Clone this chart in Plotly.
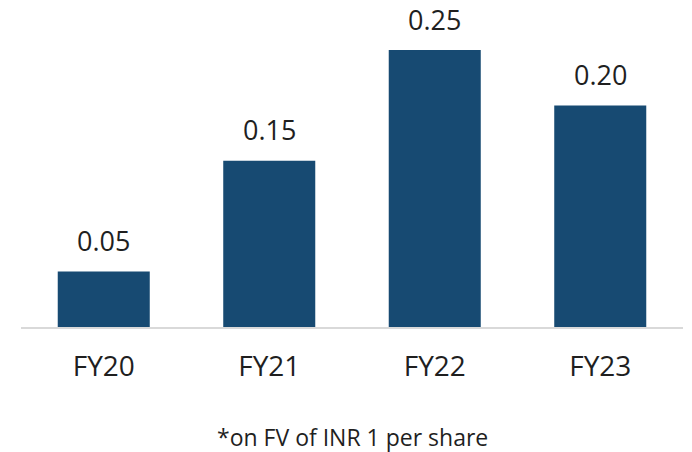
import plotly.graph_objects as go

categories = ["FY20", "FY21", "FY22", "FY23"]
values = [0.05, 0.15, 0.25, 0.20]
labels = ["0.05", "0.15", "0.25", "0.20"]
footnote = "*on FV of INR 1 per share"

FONT = "Open Sans"
TXT = "#1f1f1f"

fig = go.Figure(go.Bar(
    x=categories, y=values,
    marker=dict(color="#174a72", line=dict(width=0)),
    cliponaxis=False, hoverinfo="skip",
))

for c, v, lab in zip(categories, values, labels):
    fig.add_annotation(x=c, y=v, text=lab, showarrow=False, xref="x", yref="y",
                       yanchor="middle", yshift=31, borderpad=0,
                       font=dict(family=FONT, size=27, color=TXT))

W, H = 692, 452
ml, mr, mt, mb = 21, 9, 8, 125
fig.update_layout(
    width=W, height=H,
    margin=dict(l=ml, r=mr, t=mt, b=mb),
    paper_bgcolor="white", plot_bgcolor="white",
    bargap=0.444,
    showlegend=False,
    font=dict(family=FONT, color=TXT),
    xaxis=dict(showgrid=False, showline=True, linecolor="#d9d9d9", linewidth=2,
               ticks="", tickfont=dict(family=FONT, size=28, color=TXT),
               ticklabelstandoff=13),
    yaxis=dict(range=[0, 0.288], visible=False, showgrid=False, zeroline=False),
)
fig.add_annotation(text=footnote, x=0.5, y=-0.346, xref="paper", yref="paper",
                   showarrow=False, xanchor="center", yanchor="middle",
                   font=dict(family=FONT, size=23, color=TXT))
fig.write_html("out.html", config={"displayModeBar": False},
               post_script="document.body.style.margin='0';document.body.style.padding='0';")
